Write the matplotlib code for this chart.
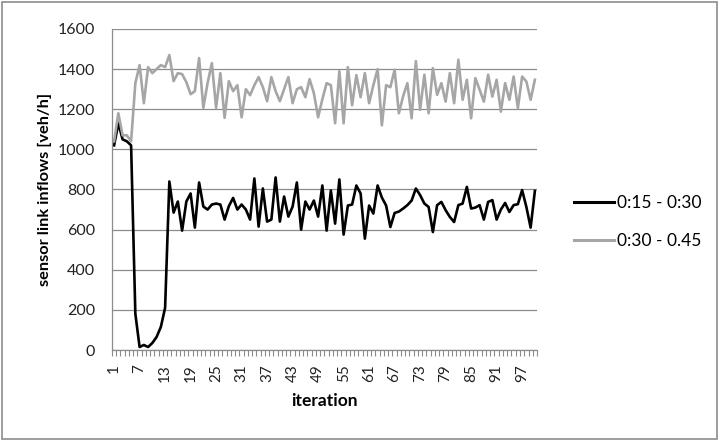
import matplotlib
matplotlib.use("Agg")
import matplotlib.pyplot as plt
from matplotlib.patches import Rectangle
import numpy as np

iterations = list(range(1, 101))

series_1530 = [1020, 1130, 1050, 1040, 1020, 180, 15, 25, 15, 35,
               65, 115, 210, 840, 685, 740, 595, 740, 780, 610,
               835, 715, 700, 725, 730, 725, 650, 717, 758, 700,
               725, 700, 650, 855, 615, 805, 640, 650, 860, 640,
               765, 665, 715, 835, 600, 740, 700, 745, 665, 820,
               595, 795, 630, 850, 575, 720, 725, 820, 780, 555,
               720, 680, 820, 760, 720, 613, 683, 690, 705, 722,
               745, 805, 772, 730, 713, 588, 722, 738, 697, 663,
               638, 722, 730, 813, 705, 710, 722, 650, 738, 747,
               650, 700, 733, 688, 722, 727, 797, 713, 610, 793]

series_3045 = [1040, 1180, 1070, 1070, 1040, 1330, 1420, 1230, 1410, 1380,
               1400, 1420, 1410, 1470, 1340, 1380, 1375, 1335, 1275, 1290,
               1455, 1207, 1331, 1430, 1207, 1380, 1157, 1340, 1290, 1320,
               1160, 1300, 1270, 1320, 1360, 1310, 1240, 1360, 1290, 1240,
               1300, 1360, 1230, 1300, 1310, 1260, 1350, 1280, 1160, 1250,
               1330, 1320, 1130, 1390, 1130, 1410, 1220, 1370, 1260, 1380,
               1230, 1320, 1400, 1120, 1320, 1310, 1397, 1180, 1265, 1330,
               1155, 1440, 1197, 1372, 1180, 1405, 1272, 1330, 1238, 1380,
               1230, 1447, 1247, 1347, 1155, 1355, 1297, 1238, 1372, 1263,
               1347, 1188, 1330, 1247, 1363, 1205, 1363, 1338, 1247, 1347]

labels = ["0:15 - 0:30", "0:30 - 0.45"]
colors = ["#000000", "#A6A6A6"]
yticks = list(range(0, 1601, 200))
xtick_labels = list(range(1, 101, 6))

plt.rcParams['font.family'] = ['Lato', 'DejaVu Sans']

fig = plt.figure(figsize=(7.21, 4.44), dpi=100)
ax = fig.add_axes([0.1553, 0.2117, 0.7448 - 0.1553, 0.9347 - 0.2117])

ax.plot(iterations, series_1530, color=colors[0], lw=1.9, label=labels[0],
        solid_joinstyle='round')
ax.plot(iterations, series_3045, color=colors[1], lw=1.9, label=labels[1],
        solid_joinstyle='round')

ax.set_xlim(0.5, 100.5)
ax.set_ylim(0, 1600)
ax.set_yticks(yticks)
ax.set_yticklabels([str(v) for v in yticks], fontsize=11.5, color='#222222')
ax.yaxis.grid(True, color='#8C8C8C', lw=0.9)
ax.set_axisbelow(True)

ax.set_xticks(xtick_labels)
ax.set_xticklabels([str(v) for v in xtick_labels], rotation=90, fontsize=11,
                   color='#222222')
ax.set_xticks(np.arange(0.5, 101, 1), minor=True)
ax.tick_params(axis='x', which='major', length=0, pad=10)
ax.tick_params(axis='x', which='minor', length=4, color='#8C8C8C', width=0.8,
               direction='out')
ax.tick_params(axis='y', length=0, pad=12)

for s in ['top', 'right']:
    ax.spines[s].set_visible(False)
ax.spines['left'].set_color('#8C8C8C')
ax.spines['bottom'].set_color('#8C8C8C')
ax.spines['left'].set_linewidth(0.9)
ax.spines['bottom'].set_linewidth(0.9)

ax.set_xlabel('iteration', fontsize=12.5, fontweight='bold', labelpad=8)
ax.set_ylabel('sensor link inflows [veh/h]', fontsize=11.8, fontweight='bold',
              labelpad=4)

leg = fig.legend(loc='center left', bbox_to_anchor=(0.775, 0.5),
                 frameon=False, fontsize=12.5, handlelength=2.3,
                 handletextpad=0.15, labelspacing=1.3)
for line in leg.get_lines():
    line.set_linewidth(2.2)

fig.patches.append(Rectangle((0.003, 0.012), 0.991, 0.983,
                             transform=fig.transFigure, fill=False,
                             edgecolor='#8C8C8C', lw=1.2))

fig.savefig('out.png', dpi=100)
